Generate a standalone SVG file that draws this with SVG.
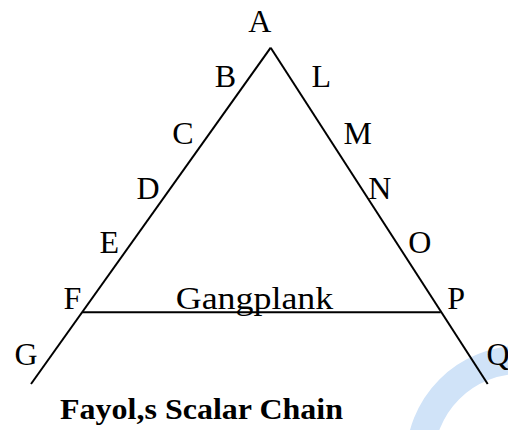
<svg xmlns="http://www.w3.org/2000/svg" width="508" height="430" viewBox="0 0 508 430">
<style>
.lbl{font-family:"Liberation Serif","Times New Roman",serif;font-size:32px;fill:#000;text-anchor:middle}
.ln{stroke:#000;stroke-width:2;fill:none;stroke-linecap:butt}
.title{font-family:"Liberation Serif","Times New Roman",serif;font-size:29px;font-weight:bold;fill:#000}
</style>
<rect width="508" height="430" fill="#fff"/>
<circle cx="520" cy="460" r="100" fill="none" stroke="#d0e3f8" stroke-width="28"/>
<g id="connectors">
<line class="ln" x1="270.7" y1="47.7" x2="31" y2="384"/>
<line class="ln" x1="270.7" y1="47.7" x2="487.7" y2="384"/>
<line class="ln" x1="82.2" y1="312.3" x2="440.7" y2="312.3" stroke="#222"/>
</g>
<g id="A"><text class="lbl" x="259.7" y="31.7">A</text></g>
<g id="B"><text class="lbl" x="225.3" y="87.3">B</text></g>
<g id="L"><text class="lbl" x="321.3" y="87.3">L</text></g>
<g id="C"><text class="lbl" x="182.8" y="144">C</text></g>
<g id="M"><text class="lbl" x="357.8" y="144">M</text></g>
<g id="D"><text class="lbl" x="148" y="199.3">D</text></g>
<g id="N"><text class="lbl" x="379.7" y="199.3">N</text></g>
<g id="E"><text class="lbl" x="109.3" y="253.3">E</text></g>
<g id="O"><text class="lbl" x="419.8" y="253.3">O</text></g>
<g id="F"><text class="lbl" x="72.5" y="309.3">F</text></g>
<g id="P"><text class="lbl" x="456.2" y="309.3">P</text></g>
<g id="G"><text class="lbl" x="26" y="365">G</text></g>
<g id="Q"><text class="lbl" x="498" y="365">Q</text></g>
<g id="gangplank"><text class="lbl" x="254.5" y="309.3" textLength="157.6" lengthAdjust="spacingAndGlyphs">Gangplank</text></g>
<g id="title"><text class="title" x="60" y="419" textLength="283" lengthAdjust="spacingAndGlyphs">Fayol,s Scalar Chain</text></g>
</svg>
